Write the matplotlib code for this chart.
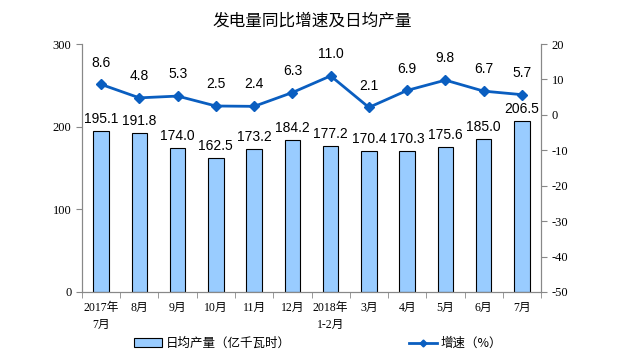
import matplotlib.pyplot as plt
import numpy as np

plt.rcParams['font.family'] = ['Liberation Sans', 'Noto Sans CJK SC']
plt.rcParams['axes.unicode_minus'] = False

months = ['2017年\n7月', '8月', '9月', '10月', '11月', '12月', '2018年\n1-2月',
          '3月', '4月', '5月', '6月', '7月']
daily_output = [195.1, 191.8, 174.0, 162.5, 173.2, 184.2, 177.2, 170.4, 170.3, 175.6, 185.0, 206.5]
growth = [8.6, 4.8, 5.3, 2.5, 2.4, 6.3, 11.0, 2.1, 6.9, 9.8, 6.7, 5.7]

fig = plt.figure(figsize=(6.24, 3.56), dpi=100)
ax = fig.add_axes([0.1314, 0.1798, 0.7356, 0.6966])
ax2 = ax.twinx()

x = np.arange(len(months))
bars = ax.bar(x, daily_output, width=0.4, color='#99CCFF', edgecolor='black', linewidth=0.8,
              label='日均产量（亿千瓦时）', zorder=2)
for xi, v in zip(x, daily_output):
    ax.text(xi, v + 6, f'{v:.1f}', ha='center', va='bottom', fontsize=10)

line, = ax2.plot(x, growth, color='#0A5EC0', linewidth=2, marker='D', markersize=5,
                 label='增速（%）', zorder=3)
for xi, v in zip(x, growth):
    ax2.text(xi, v + 4.2, f'{v:.1f}', ha='center', va='bottom', fontsize=10)

ax.set_xlim(-0.5, len(months) - 0.5)
ax.set_ylim(0, 300)
ax.set_yticks([0, 100, 200, 300])
ax2.set_ylim(-50, 20)
ax2.set_yticks(range(-50, 21, 10))

ax.set_xticks(x)
ax.set_xticklabels(months, fontsize=8.5, linespacing=1.6,
                   family=['Liberation Serif', 'Noto Sans CJK SC'])
ax.set_xticks(np.arange(-0.5, len(months), 1), minor=True)
ax.tick_params(axis='x', which='major', length=0, pad=7)
ax.tick_params(axis='x', which='minor', length=4, color='#888888')
ax.tick_params(axis='y', length=4, color='#888888', labelsize=9)
ax2.tick_params(axis='y', length=4, color='#888888', labelsize=9)
for lab in ax.get_yticklabels() + ax2.get_yticklabels():
    lab.set_family('Liberation Serif')

for a in (ax, ax2):
    a.spines['top'].set_visible(False)
    for s in ('left', 'right', 'bottom'):
        a.spines[s].set_color('#888888')

fig.suptitle('发电量同比增速及日均产量', y=0.965, fontsize=12,
             family=['Noto Sans CJK SC'])

fig.legend([bars, line], ['日均产量（亿千瓦时）', '增速（%）'], loc='lower center',
           bbox_to_anchor=(0.51, -0.015), ncol=2, frameon=False, columnspacing=9.5,
           handlelength=2.2, handletextpad=0.3, markerscale=0.7,
           prop={'family': ['Noto Sans CJK SC'], 'size': 9})

fig.savefig('out.png', dpi=100)
